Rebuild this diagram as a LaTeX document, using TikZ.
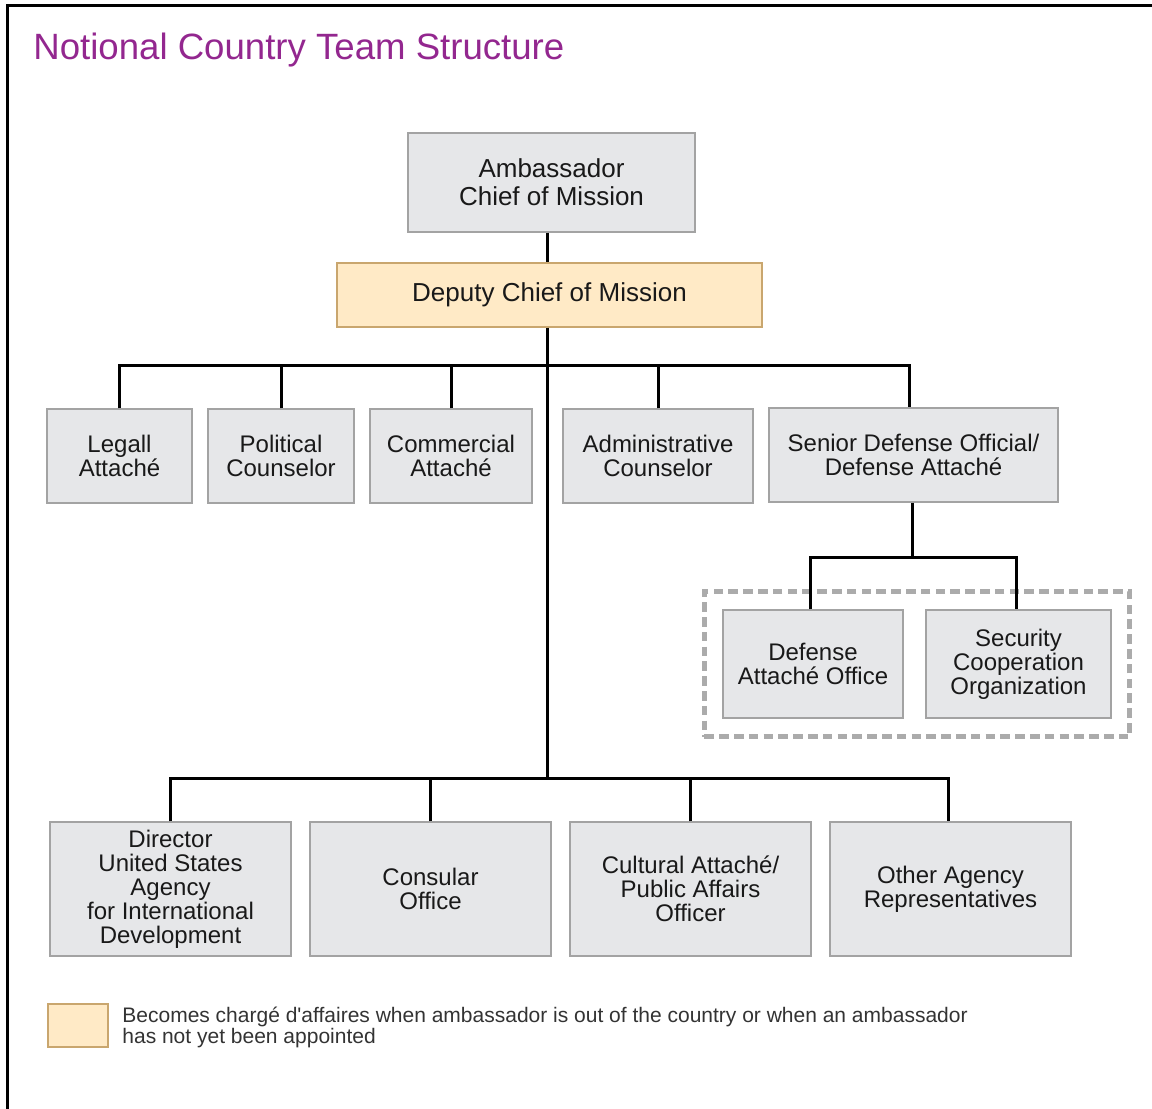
\documentclass[tikz,border=0pt]{standalone}
\usepackage{fontspec}
\setmainfont{Liberation Sans}
\usetikzlibrary{fit}
\definecolor{boxgray}{HTML}{E6E7E9}
\definecolor{boxedge}{HTML}{A3A3A3}
\definecolor{dcmfill}{HTML}{FFEAC6}
\definecolor{dcmedge}{HTML}{C9A66E}
\definecolor{titlepurple}{HTML}{93278F}
\definecolor{legendtext}{HTML}{333333}
\definecolor{groupgray}{HTML}{ABABAB}
\tikzset{
  office/.style={draw=boxedge, fill=boxgray, line width=0.6pt, align=center,
    inner sep=0pt, text=black!90, font=\fontsize{12}{12}\selectfont},
  bigoffice/.style={office, font=\fontsize{13}{14}\selectfont},
  conn/.style={line width=1.5pt, black},
  groupbox/.style={draw=groupgray, line width=2.3pt, dash pattern=on 4.8pt off 2.6pt,
    inner sep=9pt}
}
\begin{document}
\begin{tikzpicture}[x=0.5pt, y=-0.5pt]
        \useasboundingbox (0,0) rectangle (1152,1109);
        % frame
        \draw[line width=1.5pt] (7,1109) -- (7,5) -- (1152,5);
        \node(title)[anchor=west, text=titlepurple, font=\fontsize{18.3}{20}\selectfont, inner sep=0pt] at (33,50) {Notional Country Team Structure};
        % leadership
        \node(amb)[bigoffice, minimum width=143.5pt, minimum height=49.5pt] at (551.5,182.5) {Ambassador\\Chief of Mission};
        \node(dcm)[bigoffice, fill=dcmfill, draw=dcmedge, minimum width=212.5pt, minimum height=32pt] at (549.5,295) {Deputy Chief of Mission};
        % top row
        \node(legal)[office, minimum width=72.5pt, minimum height=47pt] at (119.5,456) {Legall\\Attaché};
        \node(pol)[office, minimum width=73pt, minimum height=47pt] at (281,456) {Political\\Counselor};
        \node(com)[office, minimum width=81pt, minimum height=47pt] at (451,456) {Commercial\\Attaché};
        \node(adm)[office, minimum width=95pt, minimum height=47pt] at (658,456) {Administrative\\Counselor};
        \node(sdo)[office, minimum width=144.5pt, minimum height=47pt] at (913.5,455) {Senior Defense Official/\\Defense Attaché};
        % defense offices
        \node(dao)[office, minimum width=90pt, minimum height=54pt] at (813,664) {Defense\\Attaché Office};
        \node(sco)[office, minimum width=92.5pt, minimum height=54pt] at (1018.5,664) {Security\\Cooperation\\Organization};
        \node(dagroup)[groupbox, fit=(dao)(sco)] {};
        % bottom row
        \node(usaid)[office, minimum width=120.5pt, minimum height=67pt] at (170.5,889) {Director\\United States\\Agency\\for International\\Development};
        \node(cons)[office, minimum width=120.5pt, minimum height=67pt] at (430.5,889) {Consular\\Office};
        \node(cult)[office, minimum width=120.5pt, minimum height=67pt] at (690.5,889) {Cultural Attaché/\\Public Affairs\\Officer};
        \node(other)[office, minimum width=120.5pt, minimum height=67pt] at (950.5,889) {Other Agency\\Representatives};
        % legend
        \node(key)[draw=dcmedge, fill=dcmfill, line width=0.6pt, minimum width=30pt, minimum height=21.5pt, inner sep=0pt] at (78,1025.5) {};
        \node(keytext)[anchor=west, align=left, inner sep=0pt, text=legendtext, font=\fontsize{10.5}{10.5}\selectfont] at (122,1027.5) {Becomes chargé d\textquotesingle affaires when ambassador is out of the country or when an ambassador\\has not yet been appointed};
        % connectors
        \coordinate(topbar) at (547,365);
        \coordinate(lowbar) at (547,778);
        \coordinate(subbar) at (912,557);
        \draw[conn](topbar |- amb.south)--(topbar |- dcm.north);
        \draw[conn](topbar |- dcm.south)--(lowbar);
        \draw[conn](legal.north)--(legal.north |- topbar)--([xshift=-2pt]sdo.north |- topbar)--([xshift=-2pt]sdo.north);
        \foreach \n in {pol,com,adm}
          \draw[conn](\n.north)--(\n.north |- topbar);
        \draw[conn](subbar |- sdo.south)--(subbar);
        \draw[conn]([xshift=-1.5pt]dao.north)--([xshift=-1.5pt]dao.north |- subbar)--([xshift=-1.2pt]sco.north |- subbar)--([xshift=-1.2pt]sco.north);
        \draw[conn](usaid.north)--(usaid.north |- lowbar)--([xshift=-1.2pt]other.north |- lowbar)--([xshift=-1.2pt]other.north);
        \foreach \n in {cons,cult}
          \draw[conn](\n.north)--(\n.north |- lowbar);
        \end{tikzpicture}
\end{document}
